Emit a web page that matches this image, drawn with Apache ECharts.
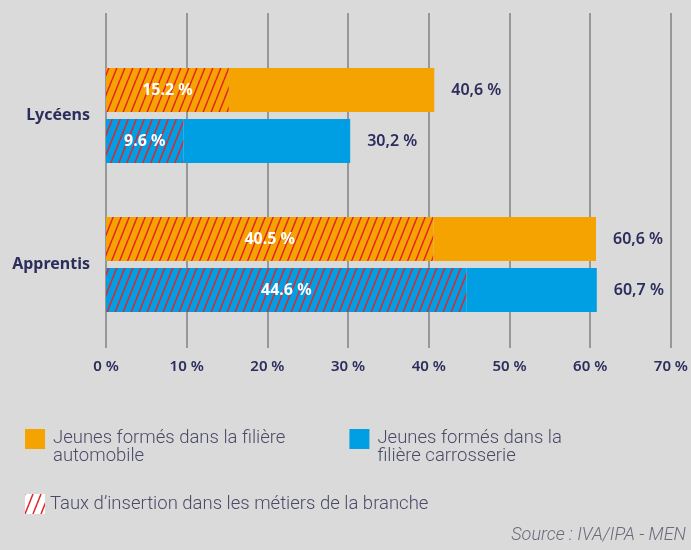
<!DOCTYPE html>
<html>
<head>
<meta charset="utf-8">
<script src="https://cdn.jsdelivr.net/npm/echarts@6/dist/echarts.min.js"></script>
<style>
  html, body { margin: 0; padding: 0; background: #dadada; }
  #chart { width: 691px; height: 550px; }
</style>
</head>
<body>
<div id="chart"></div>
<script>
// données
const categories = ['Lycéens', 'Apprentis']
const autoTotal = [40.6, 60.6]
const carrTotal = [30.2, 60.7]
const autoInsertion = [15.2, 40.5]
const carrInsertion = [9.6, 44.6]
const xTicks = [0, 10, 20, 30, 40, 50, 60, 70]

const NAME_AUTO = 'Jeunes formés dans la filière\nautomobile'
const NAME_CARR = 'Jeunes formés dans la\nfilière carrosserie'
const NAME_INS = 'Taux d’insertion dans les métiers de la branche'

const ORANGE = '#f5a300'
const BLUE = '#009fe3'
const RED = '#e5232a'
const NAVY = '#2b2d5c'

// motif hachuré
const hatch = (bg) => {
  const w = 8, h = 20
  const c = document.createElement('canvas')
  c.width = w
  c.height = h
  const ctx = c.getContext('2d')
  ctx.fillStyle = bg
  ctx.fillRect(0, 0, w, h)
  ctx.strokeStyle = RED
  ctx.lineWidth = 1.5
  for (let k = -1; k <= 1; k++) {
    ctx.beginPath()
    ctx.moveTo(k * w, h)
    ctx.lineTo(k * w + w, 0)
    ctx.stroke()
  }
  return { image: c, repeat: 'repeat' }
}

const fmt = (v) => String(v).replace('.', ',') + ' %'

const mChart = echarts.init(document.getElementById('chart'))

const insideLabel = {
  show: true,
  position: 'inside',
  color: '#fff',
  fontFamily: 'Noto Sans',
  fontWeight: 700,
  fontSize: 16,
  formatter: (p) => p.value + ' %'
}
const rightLabel = (totals) => ({
  show: true,
  position: 'right',
  distance: 17,
  color: NAVY,
  fontFamily: 'Noto Sans',
  fontWeight: 600,
  fontSize: 16,
  formatter: (p) => fmt(totals[p.dataIndex])
})

const legendText = {
  color: '#4a4a68', fontFamily: 'Roboto', fontWeight: 300, fontSize: 18.5
}

const options = {
  backgroundColor: '#dadada',
  animation: false,
  grid: [
    // grille de fond (lignes verticales)
    { left: 106, right: 19, top: 13, bottom: 202 },
    // barres
    { left: 106, right: 19, top: 41, bottom: 211 }
  ],
  xAxis: [
    {
      gridIndex: 0, type: 'value', min: 0, max: 70, interval: 10,
      axisLine: { show: false }, axisTick: { show: false },
      splitLine: { show: true, lineStyle: { color: '#979797', width: 2 } },
      axisLabel: {
        margin: 11, color: NAVY, fontFamily: 'Noto Sans', fontWeight: 600, fontSize: 15,
        formatter: (v) => xTicks.includes(v) ? v + ' %' : ''
      }
    },
    {
      gridIndex: 1, type: 'value', min: 0, max: 70, interval: 10,
      show: false
    }
  ],
  yAxis: [
    { gridIndex: 0, type: 'value', show: false },
    {
      gridIndex: 1, type: 'category', inverse: true, data: categories,
      axisLine: { show: false }, axisTick: { show: false },
      axisLabel: {
        margin: 16, color: NAVY, fontFamily: 'Noto Sans', fontWeight: 700, fontSize: 16
      }
    }
  ],
  legend: [
    {
      left: 25, top: 416, padding: 0, itemWidth: 20, itemHeight: 20, itemGap: 64,
      icon: 'rect', selectedMode: false,
      data: [NAME_AUTO, NAME_CARR].map((n) => ({ name: n })),
      // ligne vide en tête pour aligner le texte sous le haut du carré
      formatter: (name) => '{s| }\n' + name.split('\n').map((l) => '{t|' + l + '}').join('\n'),
      textStyle: Object.assign({
        rich: {
          s: { lineHeight: 16, fontSize: 10 },
          t: Object.assign({ lineHeight: 18, padding: [0, 0, 0, 3] }, legendText)
        }
      }, legendText)
    },
    {
      left: 25, top: 494, padding: 0, itemWidth: 20, itemHeight: 20,
      icon: 'rect', selectedMode: false,
      data: [{ name: NAME_INS, itemStyle: { color: hatch('#ffffff') } }],
      textStyle: legendText
    }
  ],
  graphic: [
    {
      type: 'text', right: 5, top: 526,
      style: {
        text: 'Source : IVA/IPA - MEN', fill: '#6a6a7a',
        font: 'italic 300 18px Roboto'
      }
    }
  ],
  series: [
    {
      name: NAME_INS, type: 'bar', xAxisIndex: 1, yAxisIndex: 1, stack: 'auto',
      barWidth: 44, barGap: '16%',
      itemStyle: { color: hatch(ORANGE) },
      label: insideLabel,
      data: autoInsertion
    },
    {
      name: NAME_AUTO, type: 'bar', xAxisIndex: 1, yAxisIndex: 1, stack: 'auto',
      barWidth: 44, barGap: '16%',
      itemStyle: { color: ORANGE },
      label: rightLabel(autoTotal),
      data: autoTotal.map((v, i) => +(v - autoInsertion[i]).toFixed(1))
    },
    {
      name: NAME_INS, type: 'bar', xAxisIndex: 1, yAxisIndex: 1, stack: 'carr',
      barWidth: 44, barGap: '16%',
      itemStyle: { color: hatch(BLUE) },
      label: insideLabel,
      data: carrInsertion
    },
    {
      name: NAME_CARR, type: 'bar', xAxisIndex: 1, yAxisIndex: 1, stack: 'carr',
      barWidth: 44, barGap: '16%',
      itemStyle: { color: BLUE },
      label: rightLabel(carrTotal),
      data: carrTotal.map((v, i) => +(v - carrInsertion[i]).toFixed(1))
    }
  ]
}
mChart.setOption(options)
</script>
</body>
</html>
